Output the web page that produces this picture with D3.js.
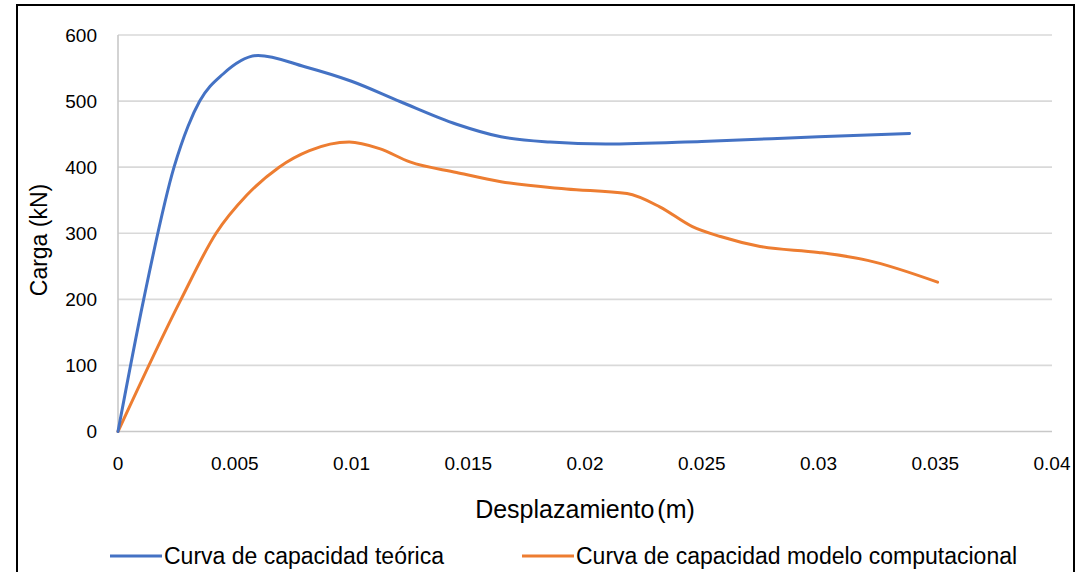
<!DOCTYPE html>
<html>
<head>
    <meta charset="utf-8">
    <script src="https://d3js.org/d3.v7.min.js"></script>
    <style>
        body { margin: 0; background: #fff; }
        text { font-family: "Liberation Sans", Arial, sans-serif; fill: #000; }
    </style>
</head>
<body>
<div id="chart"></div>
<script>
// data (desplazamiento m, carga kN)
var teoricaX = [0, 0.0011, 0.0024, 0.003, 0.0035, 0.0045, 0.006, 0.008, 0.01, 0.0121, 0.0145, 0.0164, 0.0185, 0.0209, 0.025, 0.03, 0.0339];
var teoricaY = [0, 200, 400, 462, 500, 541, 569, 552, 530, 499, 465, 446, 438, 435, 439, 446, 451];

var modeloX = [0, 0.0027, 0.0042, 0.0055, 0.0069, 0.0082, 0.0099, 0.0112, 0.0125, 0.0145, 0.0164, 0.0192, 0.0218, 0.0232, 0.0246, 0.0258, 0.0275, 0.03, 0.0321, 0.0351];
var modeloY = [0, 200, 300, 357, 400, 425, 438, 428, 408, 392, 378, 367, 360, 340, 310, 295, 280, 271, 259, 226];

var xTicks = [0, 0.005, 0.01, 0.015, 0.02, 0.025, 0.03, 0.035, 0.04];
var yTicks = [0, 100, 200, 300, 400, 500, 600];

var seriesNames = ["Curva de capacidad teórica", "Curva de capacidad modelo computacional"];
var seriesColors = ["#4472C4", "#ED7D31"];

var width = 1084, height = 572;

var svg = d3.select("#chart").append("svg")
    .attr("width", width)
    .attr("height", height);

// outer frame
svg.append("rect")
    .attr("x", 17).attr("y", 5)
    .attr("width", 1057).attr("height", 600)
    .attr("fill", "none")
    .attr("stroke", "#000")
    .attr("stroke-width", 2);

var x = d3.scaleLinear().domain([0, 0.04]).range([118, 1052]);
var y = d3.scaleLinear().domain([0, 600]).range([431.5, 35]);

// gridlines
svg.append("g")
    .selectAll("line")
    .data(yTicks)
    .enter()
    .append("line")
    .attr("x1", x(0)).attr("x2", x(0.04))
    .attr("y1", d => y(d)).attr("y2", d => y(d))
    .style("stroke", d => d === 0 ? "#c8c8c8" : "#d9d9d9")
    .style("stroke-width", 1.6);

// left axis line
svg.append("line")
    .attr("x1", x(0)).attr("x2", x(0))
    .attr("y1", y(0)).attr("y2", y(600))
    .style("stroke", "#c8c8c8")
    .style("stroke-width", 1.6);

// y tick labels
svg.append("g")
    .selectAll("text")
    .data(yTicks)
    .enter()
    .append("text")
    .attr("x", 97)
    .attr("y", d => y(d))
    .attr("dy", "0.35em")
    .attr("text-anchor", "end")
    .style("font-size", "19px")
    .text(d => d);

// x tick labels
svg.append("g")
    .selectAll("text")
    .data(xTicks)
    .enter()
    .append("text")
    .attr("x", d => x(d))
    .attr("y", 463)
    .attr("dy", "0.35em")
    .attr("text-anchor", "middle")
    .style("font-size", "19px")
    .text(d => d === 0 ? "0" : String(+d.toFixed(3)));

// axis titles
svg.append("text")
    .attr("transform", "translate(47,240) rotate(-90)")
    .attr("text-anchor", "middle")
    .style("font-size", "23px")
    .text("Carga (kN)");

svg.append("text")
    .attr("x", 585)
    .attr("y", 509)
    .attr("dy", "0.35em")
    .attr("text-anchor", "middle")
    .style("font-size", "25px")
    .style("word-spacing", "-4px")
    .text("Desplazamiento (m)");

// curves (smoothed like the spreadsheet)
var line = d3.line()
    .x(d => x(d[0]))
    .y(d => y(d[1]))
    .curve(d3.curveMonotoneX);

var teorica = teoricaX.map((v, i) => [v, teoricaY[i]]);
var modelo = modeloX.map((v, i) => [v, modeloY[i]]);

svg.append("path")
    .datum(modelo)
    .attr("d", line)
    .attr("fill", "none")
    .attr("stroke", seriesColors[1])
    .attr("stroke-width", 3)
    .attr("stroke-linecap", "round");

svg.append("path")
    .datum(teorica)
    .attr("d", line)
    .attr("fill", "none")
    .attr("stroke", seriesColors[0])
    .attr("stroke-width", 3)
    .attr("stroke-linecap", "round");

// legend
var legendX = [110, 522];
var legend = svg.append("g")
    .selectAll("g")
    .data(seriesNames)
    .enter()
    .append("g")
    .attr("transform", (d, i) => "translate(" + legendX[i] + ",556)");

legend.append("line")
    .attr("x1", 0).attr("x2", 52)
    .attr("y1", 0).attr("y2", 0)
    .attr("stroke", (d, i) => seriesColors[i])
    .attr("stroke-width", 3);

legend.append("text")
    .attr("x", 54)
    .attr("y", 0)
    .attr("dy", "0.35em")
    .style("font-size", "23px")
    .text(d => d);
</script>
</body>
</html>
